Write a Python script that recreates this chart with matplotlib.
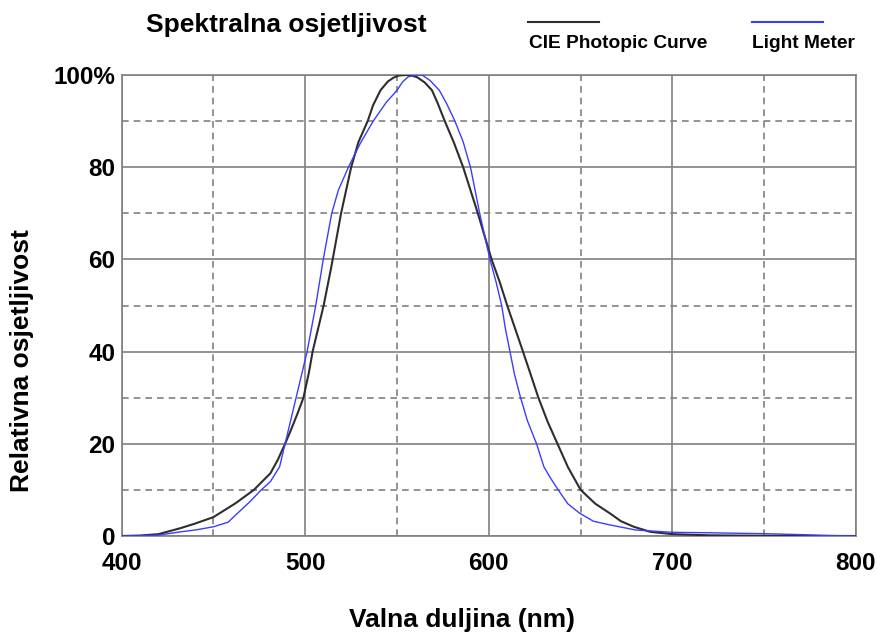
import matplotlib
matplotlib.use("Agg")
import matplotlib.pyplot as plt
from matplotlib.lines import Line2D
from matplotlib.ticker import MultipleLocator

plt.rcParams["font.family"] = ["Liberation Sans", "DejaVu Sans"]
plt.rcParams["font.weight"] = "bold"

# Krivulje očitane sa slike (valna duljina u nm, relativna osjetljivost u %)
cie_nm = [400, 410, 420, 432, 440, 450, 462, 472, 481, 485, 489, 492, 496,
          499, 502, 504, 507, 510, 514, 519.5, 525, 529, 534, 537, 541, 545,
          548, 551, 555, 558, 561, 565, 569, 572, 576, 581, 586, 590, 594,
          601.5, 606, 610, 618.6, 627, 632, 637.4, 643, 650, 658, 666,
          672, 679, 688, 700, 720, 750, 800]
cie_val = [0.0, 0.1, 0.4, 1.7, 2.7, 4.1, 7.1, 10, 13.6, 16.5, 20, 22.8, 26.8,
           30, 35.5, 40, 45, 50, 58, 70, 80, 85.5, 90, 93.5, 96.7, 98.6,
           99.4, 99.9, 100, 99.9, 99.5, 98.4, 96.7, 94, 90, 85.3, 80, 75, 70,
           60, 55, 50, 40, 30, 24.8, 20, 15, 10, 7, 4.9,
           3.2, 2.0, 0.9, 0.4, 0.15, 0.05, 0.0]

meter_nm = [400, 410, 420, 432, 440, 450, 458, 463, 470, 476, 481, 486, 489,
            492, 495, 498, 501, 505.7, 509.8, 514.4, 518, 523.5, 530, 537, 544,
            550, 553, 556, 560, 564, 568, 573, 577, 581.5, 586, 590, 595,
            600.6, 604, 607, 609, 611.5, 614, 617.3, 621, 626, 630, 634,
            637.8, 643, 649.6, 657, 666, 680, 700, 720, 750, 770, 785, 800]
meter_val = [0.0, 0.05, 0.2, 0.9, 1.3, 2.0, 3.0, 4.9, 7.5, 10, 11.8, 15, 20,
             25, 30, 35, 40, 50, 60, 70, 75, 80, 85.2, 90, 94,
             96.7, 98.5, 99.6, 100, 99.9, 98.8, 96.7, 93.8, 90, 85.5, 80, 70,
             60, 55, 50, 45, 40, 35, 30, 25, 20, 15, 12.3,
             10, 7, 4.9, 3.2, 2.4, 1.3, 0.8, 0.7, 0.5, 0.3, 0.1, 0.0]

x_ticks = [400, 500, 600, 700, 800]
y_ticks = [0, 20, 40, 60, 80, 100]
y_tick_labels = ["0", "20", "40", "60", "80", "100%"]

W, H = 878, 633
fig = plt.figure(figsize=(W / 100, H / 100), dpi=100)
fig.patch.set_facecolor("white")
ax = fig.add_axes([121.7 / W, 1 - 536 / H, (856 - 121.7) / W, (536 - 75) / H])

GRID = "#808080"
ax.plot(cie_nm, cie_val, color="#2e2e2e", lw=1.5, zorder=3)
ax.plot(meter_nm, meter_val, color="#3c3cff", lw=1.0, zorder=4)

ax.set_xlim(400, 800)
ax.set_ylim(0, 100)
ax.set_xticks(x_ticks)
ax.set_yticks(y_ticks)
ax.set_yticklabels(y_tick_labels)
ax.xaxis.set_minor_locator(MultipleLocator(50))
ax.yaxis.set_minor_locator(MultipleLocator(10))
ax.grid(which="major", color=GRID, lw=1.2, ls="-", zorder=1)
ax.grid(which="minor", color=GRID, lw=1.2, ls=(0, (4, 3)), zorder=1)
ax.tick_params(which="both", length=0)
ax.tick_params(axis="x", pad=11.5, labelsize=17.5)
ax.tick_params(axis="y", pad=4.5, labelsize=17.5)
for s in ax.spines.values():
    s.set_color(GRID)
    s.set_linewidth(1.2)

fig.text(286 / W, 1 - 25 / H, "Spektralna osjetljivost", ha="center",
         va="center", fontsize=19, fontweight="bold")
fig.text(462 / W, 1 - 620 / H, "Valna duljina (nm)", ha="center",
         va="center", fontsize=19, fontweight="bold")
fig.text(22 / W, 1 - 361 / H, "Relativna osjetljivost", ha="center",
         va="center", rotation=90, fontsize=19, fontweight="bold")

# Legenda: crta iznad teksta
fig.add_artist(Line2D([528 / W, 599 / W], [1 - 21.7 / H] * 2,
                      color="#2e2e2e", lw=1.5, transform=fig.transFigure))
fig.add_artist(Line2D([752 / W, 823 / W], [1 - 21.7 / H] * 2,
                      color="#3c3cff", lw=1.5, transform=fig.transFigure))
fig.text(529 / W, 1 - 44 / H, "CIE Photopic Curve", ha="left", va="center",
         fontsize=13.8, fontweight="bold")
fig.text(752 / W, 1 - 44 / H, "Light Meter", ha="left", va="center",
         fontsize=13.8, fontweight="bold")

fig.savefig("out.png", dpi=100)
